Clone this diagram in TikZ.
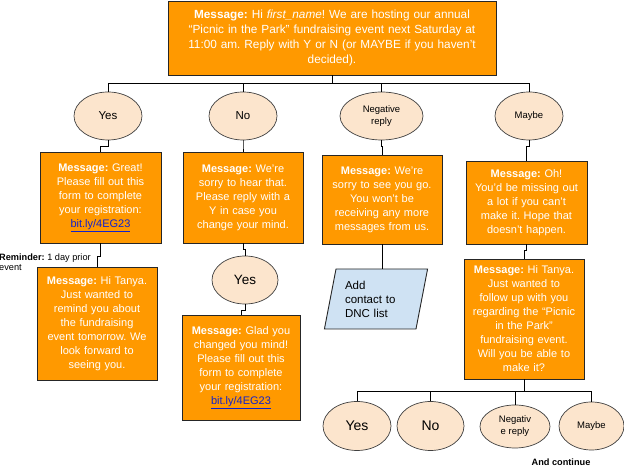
\documentclass[tikz,border=0pt]{standalone}
\usepackage{fontspec}
\setmainfont{Liberation Sans}
\usetikzlibrary{shapes.geometric}
\definecolor{boxorange}{RGB}{255,153,0}
\definecolor{replypeach}{RGB}{252,229,205}
\definecolor{dncblue}{RGB}{207,226,243}
\definecolor{linkblue}{RGB}{17,34,204}
\newcommand{\msgtag}{\textbf{Message:}}
\newcommand{\reglink}{\textcolor{linkblue}{\underline{bit.ly/4EG23}}}
\frenchspacing

\begin{document}
\begin{tikzpicture}[x=1pt,y=1pt,
    msgbox/.style={draw=black!85,fill=boxorange,text=white,align=center,inner sep=2pt,line width=0.9pt,font=\fontsize{11}{14}\selectfont},
    reply/.style={ellipse,draw=black!75,fill=replypeach,inner sep=0pt,line width=0.7pt,align=center},
    link/.style={line width=0.9pt}]

\useasboundingbox (0,0) rectangle (624,468);

\node[msgbox,minimum width=328,minimum height=74,text width=324,font=\fontsize{11.8}{15}\selectfont] (invite) at (332,430)
    {\msgtag{} Hi \textit{first\_name}! We are hosting our annual\\ “Picnic in the Park” fundraising event next Saturday at\\ 11:00 am. Reply with Y or N (or MAYBE if you haven't\\ decided).};

\node[reply,minimum width=68,minimum height=48,font=\fontsize{11.5}{14}\selectfont] (yes) at (108,352) {Yes};
\node[reply,minimum width=68,minimum height=48,font=\fontsize{11.5}{14}\selectfont] (no) at (243,352) {No};
\node[reply,minimum width=83,minimum height=48,font=\fontsize{9.5}{12}\selectfont] (neg) at (381.5,352) {Negative\\reply};
\node[reply,minimum width=68,minimum height=48,font=\fontsize{9.5}{12}\selectfont] (maybe) at (529,352) {Maybe};

\node[msgbox,minimum width=121,minimum height=91,text width=117] (msgyes) at (100.5,270.5)
    {\msgtag{} Great!\\ Please fill out this\\ form to complete\\ your registration:\\ \reglink};
\node[msgbox,minimum width=120,minimum height=91,text width=116] (msgno) at (243,270.5)
    {\msgtag{} We're\\ sorry to hear that.\\ Please reply with a\\ Y in case you\\ change your mind.};
\node[msgbox,minimum width=120,minimum height=89,text width=116] (msgneg) at (382,268.5)
    {\msgtag{} We're\\ sorry to see you go.\\ You won't be\\ receiving any more\\ messages from us.};
\node[msgbox,minimum width=121,minimum height=83,text width=117] (msgmaybe) at (526.5,265.5)
    {\msgtag{} Oh!\\ You'd be missing out\\ a lot if you can't\\ make it. Hope that\\ doesn't happen.};

\node[msgbox,minimum width=120,minimum height=113,text width=116] (remind) at (97,144.5)
    {\msgtag{} Hi Tanya.\\ Just wanted to\\ remind you about\\ the fundraising\\ event tomorrow. We\\ look forward to\\ seeing you.};
\node[anchor=west,inner sep=0pt,align=left,font=\fontsize{9.2}{10.5}\selectfont] (remindnote) at (-1,206)
    {\textbf{Reminder:} 1 day prior\\event};

\node[reply,minimum width=66,minimum height=48,font=\fontsize{13.5}{16}\selectfont] (yesagain) at (245,188) {Yes};
\node[msgbox,minimum width=118,minimum height=105,text width=114] (glad) at (241,100.5)
    {\msgtag{} Glad you\\ changed you mind!\\ Please fill out this\\ form to complete\\ your registration:\\ \reglink};

\node[trapezium,trapezium left angle=77,trapezium right angle=103,trapezium stretches=true,draw=black!85,fill=dncblue,line width=0.9pt,
    minimum width=104,minimum height=60,text width=62,align=left,font=\fontsize{11.5}{14}\selectfont] (dnc) at (376,169)
    {Add\\ contact to\\ DNC list};

\node[msgbox,minimum width=120,minimum height=120,text width=116] (follow) at (524,149)
    {\msgtag{} Hi Tanya.\\ Just wanted to\\ follow up with you\\ regarding the “Picnic\\ in the Park”\\ fundraising event.\\ Will you be able to\\ make it?};

\node[reply,minimum width=68,minimum height=49,font=\fontsize{14}{16}\selectfont] (yesend) at (357,42) {Yes};
\node[reply,minimum width=67,minimum height=49,font=\fontsize{14}{16}\selectfont] (noend) at (430.5,42) {No};
\node[reply,minimum width=70,minimum height=43,font=\fontsize{9.5}{12}\selectfont] (negend) at (515,41.5) {Negativ\\e reply};
\node[reply,minimum width=65,minimum height=48,font=\fontsize{9.5}{12}\selectfont] (maybeend) at (591.5,42) {Maybe};

\node[font=\bfseries\fontsize{9.2}{11}\selectfont,inner sep=0pt] (more) at (561,6) {And continue};

% connectors
\path (invite.south) ++(0,-8) coordinate (busA);
\path (follow.south) ++(0,-12) coordinate (busB);
\draw[link] (invite.south) -- (busA);
\foreach \n in {yes,no,neg,maybe}
    \draw[link] (busA) -| (\n.north);
\foreach \a/\b in {yes/msgyes,no/msgno,neg/msgneg,maybe/msgmaybe,msgno/yesagain,yesagain/glad,msgmaybe/follow}
    \draw[link] (\a.south) -- ++(0,-6) -| (\b.north);
\draw[link] (msgyes.south) -- ++(0,-13) -| (remind.north);
\draw[link] (msgneg.south) -- (msgneg.south |- dnc.north);
\draw[link] (follow.south) -- (busB);
\foreach \n in {yesend,noend,negend,maybeend}
    \draw[link] (busB) -| (\n.north);
\end{tikzpicture}
\end{document}
